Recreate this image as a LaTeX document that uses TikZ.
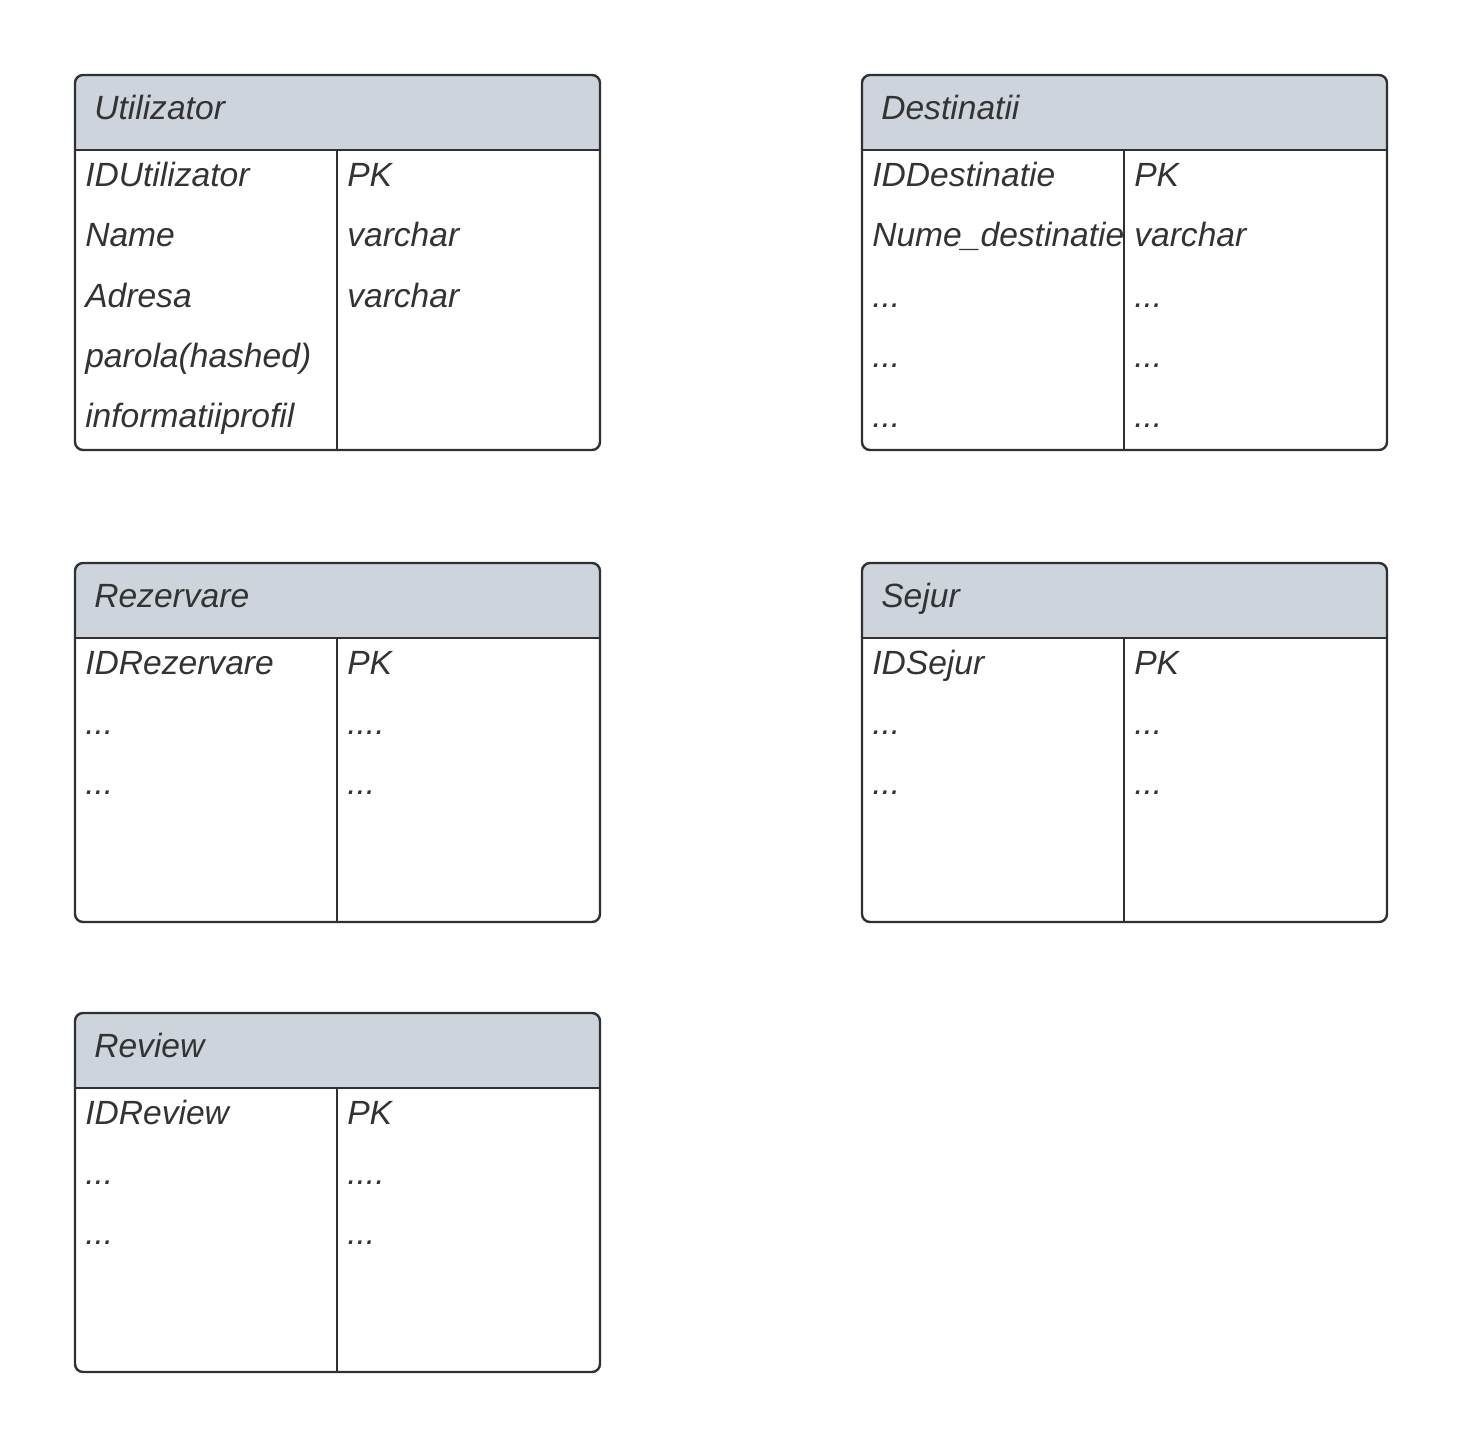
\documentclass[tikz,border=0pt]{standalone}
\usepackage{fontspec}
\setmainfont{Liberation Sans}
\definecolor{hdrfill}{RGB}{206,212,219}
\definecolor{linecol}{RGB}{46,48,52}
\definecolor{txtcol}{RGB}{51,51,51}
\begin{document}
\begin{tikzpicture}[x=0.75pt, y=-0.75pt,
    frame/.style = {draw=linecol, line width=1.8pt, rounded corners=6pt},
    sep/.style = {draw=linecol, line width=1.5pt},
    divider/.style = {draw=linecol, line width=1.1pt},
    title/.style = {anchor=base west, inner sep=0pt, text=txtcol, font=\itshape\fontsize{25.2}{30}\selectfont},
    field/.style = {anchor=base west, inner sep=0pt, text=txtcol, font=\itshape\fontsize{25.2}{30}\selectfont}]
                \useasboundingbox (0,0) rectangle (1463,1448);

                % table frames: left x / top y / bottom y
                \foreach \x/\t/\b in {75/75/450, 862/75/450, 75/563/922, 862/563/922, 75/1013/1372} {
                    \begin{scope}
                        \clip[rounded corners=6pt] (\x,\t) rectangle ({\x+525},\b);
                        \fill[hdrfill] (\x,\t) rectangle ({\x+525},{\t+75});
                    \end{scope}
                    \draw[divider] ({\x+262},{\t+75}) -- ({\x+262},\b);
                    \draw[sep] (\x,{\t+75}) -- ({\x+525},{\t+75});
                    \draw[frame] (\x,\t) rectangle ({\x+525},\b);
                }

                % Utilizator
                \node[title] (utilizator) at (94,120) {Utilizator};
                \node[field] (u1) at (85,187) {IDUtilizator};
                \node[field] (u1t) at (347,187) {PK};
                \node[field] (u2) at (85,247) {Name};
                \node[field] (u2t) at (347,247) {varchar};
                \node[field] (u3) at (85,307) {Adresa};
                \node[field] (u3t) at (347,307) {varchar};
                \node[field] (u4) at (85,367) {parola(hashed)};
                \node[field] (u5) at (85,427) {informatiiprofil};

                % Destinatii
                \node[title] (destinatii) at (881,120) {Destinatii};
                \node[field] (d1) at (872,187) {IDDestinatie};
                \node[field] (d1t) at (1134,187) {PK};
                \node[field] (d2) at (872,247) {Nume\_destinatie};
                \node[field] (d2t) at (1134,247) {varchar};
                \node[field] (d3) at (872,307) {...};
                \node[field] (d3t) at (1134,307) {...};
                \node[field] (d4) at (872,367) {...};
                \node[field] (d4t) at (1134,367) {...};
                \node[field] (d5) at (872,427) {...};
                \node[field] (d5t) at (1134,427) {...};

                % Rezervare
                \node[title] (rezervare) at (94,607) {Rezervare};
                \node[field] (r1) at (85,674) {IDRezervare};
                \node[field] (r1t) at (347,674) {PK};
                \node[field] (r2) at (85,734) {...};
                \node[field] (r2t) at (347,734) {....};
                \node[field] (r3) at (85,794) {...};
                \node[field] (r3t) at (347,794) {...};

                % Sejur
                \node[title] (sejur) at (881,607) {Sejur};
                \node[field] (s1) at (872,674) {IDSejur};
                \node[field] (s1t) at (1134,674) {PK};
                \node[field] (s2) at (872,734) {...};
                \node[field] (s2t) at (1134,734) {...};
                \node[field] (s3) at (872,794) {...};
                \node[field] (s3t) at (1134,794) {...};

                % Review
                \node[title] (review) at (94,1057) {Review};
                \node[field] (v1) at (85,1124) {IDReview};
                \node[field] (v1t) at (347,1124) {PK};
                \node[field] (v2) at (85,1184) {...};
                \node[field] (v2t) at (347,1184) {....};
                \node[field] (v3) at (85,1244) {...};
                \node[field] (v3t) at (347,1244) {...};

            \end{tikzpicture}
\end{document}
